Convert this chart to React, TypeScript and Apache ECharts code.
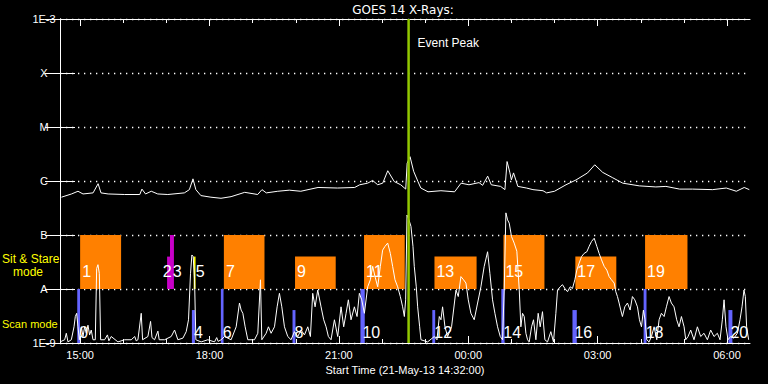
import React, { useEffect, useRef } from 'react';
import * as echarts from 'echarts';

// x: minutes since start (21-May-13 14:32:00); y: log10 of flux (W/m^2)
const titleText = 'GOES 14 X-Rays:';
const xName = 'Start Time (21-May-13 14:32:00)';
const timeLabelMinutes = [28, 208, 388, 568, 748, 928];
const timeLabels = ['15:00', '18:00', '21:00', '00:00', '03:00', '06:00'];
const hourTickMinutes = [28, 88, 148, 208, 268, 328, 388, 448, 508, 568, 628, 688, 748, 808, 868, 928];
const levelValues = [-9, -8, -7, -6, -5, -4, -3];
const levelLabels = ['1E-9', 'A', 'B', 'C', 'M', 'X', '1E-3'];
const eventPeakMinute = 485;

const longChannel: [number, number][] = [
  [2, -6.30], [16, -6.24], [25, -6.19], [32, -6.24], [46, -6.22], [53, -6.05], [57, -6.22], [67, -6.24],
  [90, -6.25], [111, -6.25], [114, -6.15], [119, -6.24], [127, -6.19], [136, -6.24], [150, -6.25],
  [173, -6.22], [180, -6.16], [185, -5.96], [189, -6.16], [196, -6.27], [210, -6.30], [224, -6.32],
  [238, -6.29], [257, -6.21], [275, -6.25], [281, -6.16], [287, -6.22], [303, -6.19], [319, -6.17],
  [335, -6.19], [359, -6.12], [386, -6.13], [410, -6.12], [417, -6.07], [428, -6.04], [435, -5.99],
  [442, -6.07], [449, -6.04], [456, -5.81], [465, -6.01], [474, -6.07], [481, -6.15], [483, -5.67],
  [487, -5.55], [492, -5.82], [498, -6.01], [502, -6.13], [512, -6.20], [530, -6.18], [549, -6.20],
  [558, -6.04], [569, -6.07], [583, -6.03], [588, -6.08], [595, -5.91], [600, -6.07], [613, -6.10],
  [619, -6.16], [622, -5.64], [626, -5.85], [628, -5.98], [631, -5.85], [637, -6.10], [649, -6.13],
  [658, -6.16], [672, -6.18], [677, -6.22], [688, -6.19], [704, -6.07], [718, -5.98], [734, -5.85],
  [744, -5.70], [755, -5.84], [769, -5.94], [783, -6.04], [806, -6.09], [829, -6.11], [843, -6.10],
  [862, -6.15], [880, -6.15], [908, -6.16], [927, -6.13], [941, -6.19], [952, -6.12], [959, -6.16],
];

const shortChannel: [number, number][] = [
  [0, -8.98], [6.5, -8.94], [8.8, -8.82], [11.1, -8.98], [15.8, -8.94], [19.5, -8.70], [21.3, -8.51],
  [23.2, -8.45], [25.0, -8.70], [26.9, -8.94], [29.7, -8.70], [32.0, -8.88], [34.3, -8.70], [36.6, -8.82],
  [38.9, -8.67], [41.2, -8.85], [43.5, -8.76], [45.9, -8.94], [49.1, -8.94], [51.0, -7.62], [52.8, -7.55],
  [54.7, -7.71], [56.5, -8.94], [62.1, -8.94], [66.0, -8.85], [68.0, -8.96], [71.3, -8.88], [80.6, -8.98],
  [89.9, -8.94], [99.1, -8.94], [104.0, -8.88], [106.0, -8.96], [108.4, -8.94], [113.0, -8.45],
  [114.9, -8.94], [122.3, -8.88], [126.0, -8.60], [128.0, -8.90], [131.6, -8.94], [136.2, -8.78],
  [138.0, -8.94], [145.5, -8.94], [154.7, -8.88], [159.4, -8.76], [164.0, -8.94], [171.0, -8.91],
  [175.6, -8.79], [178.8, -8.57], [181.6, -7.71], [183.5, -7.37], [185.3, -7.40], [187.2, -7.83],
  [189.0, -8.94], [196.4, -8.98], [205.7, -8.94], [215.0, -8.98], [218.0, -8.90], [220.0, -8.97],
  [224.2, -8.94], [228.9, -8.88], [238.1, -8.94], [245.1, -8.70], [249.7, -8.26], [252.0, -8.39],
  [254.4, -8.45], [257.6, -8.70], [261.3, -8.94], [270.6, -8.94], [275.2, -8.82], [278.9, -7.83],
  [280.8, -8.94], [286.8, -8.82], [290.0, -8.70], [293.7, -8.82], [298.4, -8.70], [302.1, -8.33],
  [305.3, -8.08], [308.6, -8.33], [312.3, -8.70], [316.9, -8.88], [321.5, -8.94], [326.2, -8.79],
  [330.8, -8.88], [335.4, -8.76], [340.1, -8.85], [344.7, -8.70], [348.4, -8.88], [351.6, -8.08],
  [354.9, -8.33], [358.6, -8.02], [363.2, -8.33], [366.9, -8.57], [370.2, -8.70], [373.4, -8.88],
  [377.1, -8.94], [381.8, -8.57], [386.4, -8.88], [391.0, -8.33], [394.7, -8.70], [398.0, -8.45],
  [401.2, -8.20], [404.9, -8.57], [409.6, -8.33], [413.3, -8.51], [416.5, -8.08], [419.8, -8.20],
  [423.5, -8.45], [428.1, -7.96], [431.8, -7.83], [435.0, -7.58], [438.3, -7.77], [442.0, -7.96],
  [445.7, -7.58], [448.9, -7.28], [452.2, -7.21], [455.9, -7.15], [459.6, -7.34], [462.8, -7.58],
  [466.1, -7.83], [469.8, -7.96], [473.5, -8.14], [476.7, -8.33], [479.1, -8.51], [480.9, -8.20],
  [482.8, -6.63], [485.5, -6.72], [488.3, -6.84], [491.1, -7.21], [492.9, -7.58], [495.7, -7.96],
  [497.6, -8.33], [500.4, -8.70], [502.2, -8.94], [511.5, -8.98], [520.8, -8.88], [524.5, -8.94],
  [527.7, -8.51], [530.0, -8.57], [532.3, -8.33], [535.6, -8.70], [539.3, -8.88], [544.8, -8.70],
  [550.9, -8.02], [554.1, -8.14], [557.8, -7.77], [561.5, -7.83], [564.8, -7.89], [568.0, -8.20],
  [571.7, -8.45], [576.3, -8.57], [581.0, -8.26], [585.6, -7.96], [590.2, -7.58], [594.9, -7.31],
  [598.1, -7.71], [601.8, -8.20], [605.1, -8.45], [608.8, -8.70], [612.5, -8.88], [615.7, -8.94],
  [618.0, -8.02], [620.4, -6.59], [622.7, -6.72], [625.0, -6.78], [628.2, -7.03], [631.9, -7.15],
  [635.6, -7.30], [638.9, -8.00], [641.2, -8.70], [643.5, -8.45], [645.9, -8.51], [648.2, -8.82],
  [650.5, -8.94], [652.8, -8.98], [656.1, -8.70], [658.8, -8.57], [662.1, -8.94], [665.3, -8.45],
  [668.1, -8.70], [671.3, -8.42], [674.6, -8.94], [678.3, -8.98], [682.9, -8.79], [686.6, -8.98],
  [689.9, -8.45], [692.2, -8.02], [695.9, -7.96], [699.1, -7.92], [702.4, -7.99], [706.1, -8.05],
  [709.8, -7.96], [713.0, -7.99], [716.3, -7.83], [719.1, -7.65], [722.3, -7.52], [725.6, -7.40],
  [729.3, -7.34], [733.0, -7.31], [736.2, -7.21], [739.5, -7.12], [743.2, -7.06], [746.9, -7.21],
  [750.1, -7.34], [753.4, -7.46], [757.1, -7.58], [760.8, -7.65], [764.0, -7.77], [767.3, -7.83],
  [771.0, -7.89], [773.3, -8.05], [775.6, -8.14], [777.9, -8.26], [780.2, -8.39], [782.5, -8.51],
  [785.8, -8.33], [789.5, -8.26], [793.2, -8.39], [796.4, -8.14], [799.7, -8.20], [803.4, -8.33],
  [806.2, -8.57], [809.0, -8.70], [811.7, -8.39], [814.0, -8.57], [816.4, -8.94], [819.6, -8.98],
  [822.9, -8.88], [826.6, -8.70], [830.3, -8.94], [833.5, -8.57], [836.7, -8.45], [840.5, -8.51],
  [843.7, -8.33], [847.4, -8.14], [850.6, -8.26], [854.3, -8.33], [858.0, -8.57], [861.3, -8.70],
  [864.6, -8.51], [868.3, -8.70], [870.6, -8.94], [873.8, -8.88], [877.5, -8.76], [882.1, -8.94],
  [886.8, -8.70], [891.4, -8.88], [896.0, -8.82], [900.7, -8.94], [905.3, -8.76], [909.9, -8.88],
  [914.6, -8.82], [918.3, -8.94], [921.5, -8.57], [923.9, -8.20], [926.6, -8.70], [929.4, -8.94],
  [933.1, -8.88], [937.7, -8.91], [942.4, -8.82], [946.1, -8.57], [948.9, -8.33], [951.6, -8.02],
  [953.5, -8.14], [955.3, -8.70], [958.1, -8.94],
];

// Sit & Stare observations
const sitStareIds = ['1', '2', '3', '5', '7', '9', '11', '13', '15', '17', '19'];
const sitStareStart = [28, 149, 153, 186, 228, 327, 423, 521, 617, 717, 814];
const sitStareEnd = [85, 153, 158.5, 188.6, 284.5, 383.6, 479.6, 579.6, 674, 774, 873];
const sitStareTop = [-7, -7.4, -7, -7.4, -7, -7.4, -7, -7.4, -7, -7.4, -7];

// Scan observations
const scanIds = ['0', '4', '6', '8', '10', '12', '14', '16', '18', '20'];
const scanStart = [24, 183.5, 223.8, 323.5, 418, 518, 614, 713, 812, 930];
const scanEnd = [27.8, 187.7, 227.5, 327.6, 424, 522, 618.5, 719, 816, 935.5];
const scanTop = [-8, -8.39, -8, -8.39, -8, -8.39, -8, -8.39, -8, -8.39];

const ORANGE = '#ff8000';
const MAGENTA = '#c800c8';
const YELLOW = '#ffff00';
const BLUE = '#6464ff';
const PEAK = '#92c800';
const blockColor: Record<string, string> = { '2': MAGENTA, '3': MAGENTA, '5': YELLOW };
const NUM_FONT = 'Liberation Sans';
const TXT_FONT = 'Liberation Sans';

export default function App() {
  const ref = useRef<HTMLDivElement>(null);
  useEffect(() => {
    if (!ref.current) return;
    const chart = echarts.init(ref.current, null, { renderer: 'svg' });

    const ssData = sitStareIds.map((id, i) => [sitStareStart[i], sitStareEnd[i], sitStareTop[i], -8, i]);
    const scData = scanIds.map((id, i) => [scanStart[i], scanEnd[i], scanTop[i], -9, i]);

    const axisLineStyle = { color: '#ffffff', width: 1 };
    const baseX = { type: 'value', min: 0, max: 960, splitLine: { show: false } };

    const option: any = {
      animation: false,
      backgroundColor: '#000000',
      grid: { left: 60, right: 18, top: 19, bottom: 41, containLabel: false },
      graphic: [
        { type: 'text', x: 403, y: 9.5, style: { text: titleText, fill: '#fff', fontSize: 12, fontFamily: 'DejaVu Sans', align: 'center', verticalAlign: 'middle' } },
        { type: 'text', x: 2, y: 259, style: { text: 'Sit & Stare', fill: YELLOW, fontSize: 12, lineHeight: 11, fontFamily: TXT_FONT, align: 'left', verticalAlign: 'middle' } },
        { type: 'text', x: 13, y: 271.5, style: { text: 'mode', fill: YELLOW, fontSize: 12, lineHeight: 11, fontFamily: TXT_FONT, align: 'left', verticalAlign: 'middle' } },
        { type: 'text', x: 2, y: 324, style: { text: 'Scan mode', fill: YELLOW, fontSize: 11, fontFamily: TXT_FONT, align: 'left', verticalAlign: 'middle' } },
      ],
      xAxis: [
        {
          ...baseX, position: 'bottom',
          axisLine: { show: true, lineStyle: axisLineStyle },
          axisTick: { show: true, inside: true, length: 4, customValues: hourTickMinutes, lineStyle: axisLineStyle },
          axisLabel: {
            show: true, customValues: timeLabelMinutes, margin: 6, color: '#fff', fontSize: 11, fontFamily: TXT_FONT,
            formatter: (v: number) => { const i = timeLabelMinutes.indexOf(Math.round(v)); return i >= 0 ? timeLabels[i] : ''; },
          },
          name: xName, nameLocation: 'middle', nameGap: 19,
          nameTextStyle: { color: '#fff', fontSize: 11, fontFamily: TXT_FONT },
        },
        {
          ...baseX, position: 'bottom',
          axisLine: { show: false },
          axisTick: { show: true, inside: true, length: 7, customValues: timeLabelMinutes, lineStyle: axisLineStyle },
          axisLabel: { show: false },
        },
        {
          ...baseX, position: 'top',
          axisLine: { show: true, lineStyle: axisLineStyle },
          axisTick: { show: true, inside: true, length: 4, customValues: hourTickMinutes, lineStyle: axisLineStyle },
          axisLabel: { show: false },
        },
        {
          ...baseX, position: 'top',
          axisLine: { show: false },
          axisTick: { show: true, inside: true, length: 7, customValues: timeLabelMinutes, lineStyle: axisLineStyle },
          axisLabel: { show: false },
        },
      ],
      yAxis: [
        {
          type: 'value', min: -9, max: -3, interval: 1, position: 'left',
          axisLine: { show: true, lineStyle: axisLineStyle },
          axisTick: { show: true, inside: true, length: 15, lineStyle: axisLineStyle },
          axisLabel: {
            show: true, color: '#fff', fontSize: 11, fontFamily: TXT_FONT, margin: 16, align: 'center',
            formatter: (v: number) => { const i = levelValues.indexOf(Math.round(v)); return i >= 0 ? levelLabels[i] : ''; },
          },
          splitLine: { show: true, lineStyle: { color: '#ffffff', width: 1.3, type: [1.3, 4.7] } },
        },
        {
          type: 'value', min: -9, max: -3, interval: 1, position: 'right',
          axisLine: { show: true, lineStyle: axisLineStyle },
          axisTick: { show: true, inside: true, length: 15, lineStyle: axisLineStyle },
          axisLabel: { show: false },
          splitLine: { show: false },
        },
      ],
      series: [
        {
          type: 'custom', name: 'Sit & Stare', xAxisIndex: 0, yAxisIndex: 0, z: 1, silent: true,
          encode: { x: [0, 1], y: [2, 3] },
          data: ssData,
          renderItem: (params: any, api: any) => {
            const i = api.value(4);
            const id = sitStareIds[i];
            const p1 = api.coord([api.value(0), api.value(2)]);
            const p2 = api.coord([api.value(1), api.value(3)]);
            const lp = api.coord([api.value(0), -7.68]);
            const isTwo = id === '2';
            return {
              type: 'group',
              children: [
                { type: 'rect', shape: { x: p1[0], y: p1[1], width: p2[0] - p1[0], height: p2[1] - p1[1] }, style: { fill: blockColor[id] || ORANGE } },
                {
                  type: 'text', x: isTwo ? lp[0] + 4.6 : lp[0] + (id === '3' ? 2.9 : 2), y: lp[1], z2: 10,
                  style: { text: id, fill: '#fff', fontSize: 16, fontFamily: NUM_FONT, align: isTwo ? 'right' : 'left', verticalAlign: 'middle' },
                },
              ],
            };
          },
        },
        {
          type: 'custom', name: 'Scan', xAxisIndex: 0, yAxisIndex: 0, z: 1, silent: true,
          encode: { x: [0, 1], y: [2, 3] },
          data: scData,
          renderItem: (params: any, api: any) => {
            const i = api.value(4);
            const id = scanIds[i];
            const p1 = api.coord([api.value(0), api.value(2)]);
            const p2 = api.coord([api.value(1), api.value(3)]);
            const lp = api.coord([api.value(0), -8.81]);
            return {
              type: 'group',
              children: [
                { type: 'rect', shape: { x: p1[0], y: p1[1], width: p2[0] - p1[0], height: p2[1] - p1[1] }, style: { fill: BLUE } },
                { type: 'text', x: lp[0] + 2, y: lp[1], z2: 10, style: { text: id, fill: '#fff', fontSize: 16, fontFamily: NUM_FONT, align: 'left', verticalAlign: 'middle' } },
              ],
            };
          },
        },
        {
          type: 'line', name: 'Long', xAxisIndex: 0, yAxisIndex: 0, z: 3, silent: true,
          data: longChannel, showSymbol: false, symbol: 'none',
          lineStyle: { color: '#ffffff', width: 1 },
        },
        {
          type: 'line', name: 'Short', xAxisIndex: 0, yAxisIndex: 0, z: 3, silent: true,
          data: shortChannel, showSymbol: false, symbol: 'none',
          lineStyle: { color: '#ffffff', width: 1 },
        },
        {
          type: 'custom', name: 'Event Peak', xAxisIndex: 0, yAxisIndex: 0, z: 4, silent: true,
          data: [[eventPeakMinute]],
          renderItem: (params: any, api: any) => {
            const top = api.coord([api.value(0), -3]);
            const bot = api.coord([api.value(0), -9]);
            return {
              type: 'group',
              children: [
                { type: 'line', shape: { x1: top[0], y1: top[1], x2: bot[0], y2: bot[1] }, style: { stroke: PEAK, lineWidth: 2.5 } },
                { type: 'text', x: top[0] + 9, y: top[1] + 24, style: { text: 'Event Peak', fill: '#fff', fontSize: 12, fontFamily: TXT_FONT, align: 'left', verticalAlign: 'middle' } },
              ],
            };
          },
        },
      ],
    };
    chart.setOption(option);
    return () => chart.dispose();
  }, []);
  return <div ref={ref} style={{ position: 'fixed', left: 0, top: 0, width: 768, height: 384 }} />;
}
